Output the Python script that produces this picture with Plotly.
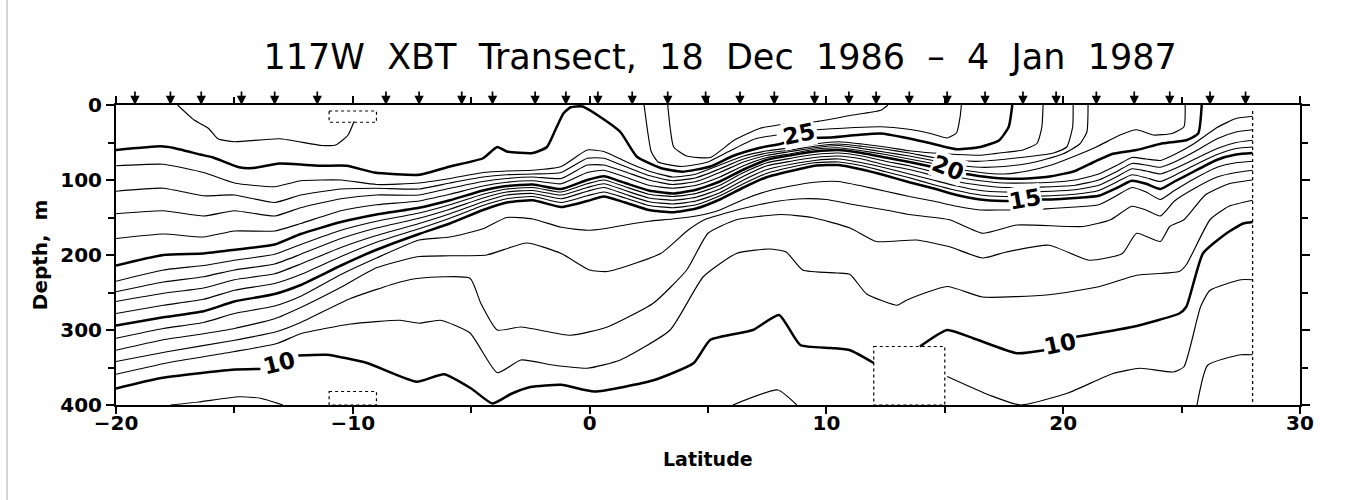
import plotly.graph_objects as go

# ---------------- data ----------------
stations = [-19.2, -17.7, -16.4, -14.7, -13.3, -11.5, -8.6, -7.2, -5.4, -4.1, -2.3, -1.0,
            0.35, 1.8, 3.3, 4.9, 6.35, 7.8, 9.5, 10.95, 12.1, 13.5, 15.1, 16.7, 18.3, 19.7,
            21.4, 23.0, 24.5, 26.2, 27.7]

lat_main = [-20, -18, -16.3, -15, -13.3, -12.2, -10.5, -9, -7.2, -5.9, -4.5, -3.5, -2.4, -1.2,
            -0.1, 0.6, 1.5, 2.5, 3.5, 4.5, 5.5, 6.5, 7.5, 8.5, 9.5, 10.5, 11.5, 12.5, 13.5,
            14.5, 15.5, 16.5, 17.5]
lat_right = [18.5, 19.5, 20.5, 21.5, 22.3, 22.9, 23.5, 24.1, 24.7, 25.5, 26.5, 27.3, 28]

t27_lat = [3.3, 3.4, 3.55, 4.1, 5.1, 6.1, 7.2, 7.9, 8.6, 9.6, 11.0, 12.3, 12.6]
t27_dep = [0, 30, 56, 68, 70, 47, 31, 27, 24, 22, 14, 7, 0]

t26a_lat = [-17.4, -16.7, -16.1, -15.7, -15.0, -13.1, -11.3, -10.7, -10.2, -9.95]
t26a_dep = [0, 20, 31, 45, 49, 45, 54, 53, 40, 22]
t26b_lat = [2.3, 2.45, 2.6, 2.9, 3.9, 5.0, 6.0, 7.0, 7.9, None,
            9.6, 11.2, 12.3, 13.4, 14.4, 15.1, 15.5, 15.65, 15.7]
t26b_dep = [0, 35, 62, 76, 82, 76, 60, 45, 40, None,
            33, 30, 29, 32, 38, 44, 37, 15, 0]

t25_lat = [-20, -18.1, -17.6, -16.45, -15.9, -14.8, -14.2, -13.1, -11.4, -10.25, -9.1, -7.2,
           -5.9, -4.5, -3.9, -3.5, -2.4, -1.8, -1.4, -1.1, -0.8, -0.3, 0.45, 1.3, 2.0, 3.0,
           3.9, 5.1, 6.05, 7.2, 8.05, 8.25, None,
           9.45, 10.3, 11.3, 12.3, 13.4, 14.4, 15.5, 16.5, 17.3, 17.7, 17.85]
t25_dep = [60, 55, 57, 66, 70, 83, 84, 78, 81, 81, 90, 93,
           82, 71, 56, 62, 64, 56, 30, 11, 3, 2, 16, 36, 69, 84,
           89, 82, 68, 57, 52, 50, None,
           44, 43, 40, 38, 44, 51, 59, 56, 47, 29, 0]

t24_tail_lat = [15.5, 16.5, 17.6, 18.3, 18.9, 19.1, 19.15]
t24_dep = [81, 79, 90, 104, 109, 101, 100, 106, 104, 98, 90, 88, 87, 82, 60, 62, 75, 88, 96,
           92, 80, 68, 61, 57, 52, 49, 52, 56, 61, 64,
           66, 67, 63, 60, 51, 29, 0]

t23_tail_lat = [16.5, 18.2, 19.6, 20.15, 20.4, 20.42]
t23_dep = [115, 111, 121, 120, 130, 120, 112, 111, 112, 104, 96, 93, 92, 90, 71, 71, 82, 94,
           101, 97, 85, 72, 64, 60, 55, 52, 55, 59, 64, 70, 74,
           75, 70, 64, 56, 29, 0]

t22_tail_lat = [16.5, 17.5, 18.5, 19.3, 20.0, 20.7, 21.0, 21.05]
t22_dep = [145, 141, 148, 141, 148, 137, 125, 120, 120, 111, 102, 98, 96, 98, 80, 80, 89, 100,
           106, 102, 90, 76, 67, 62, 57, 54, 58, 63, 68, 74, 80,
           83, 82, 78, 72, 65, 52, 36, 0]

t21_tail_lat = [16.5, 17.5, 18.5, 19.5, 20.5, 21.4, 22.4, 23.1, 23.8, 24.6, 25.1, 25.15]
t21_dep = [178, 172, 176, 168, 168, 158, 141, 133, 128, 119, 108, 103, 101, 105, 90, 87, 96,
           107, 111, 107, 96, 81, 70, 65, 59, 57, 61, 66, 72, 78, 85,
           90, 92, 88, 80, 68, 56, 40, 33, 40, 38, 29, 0]

t20_tail_lat = [14.4, None, 15.9, 16.5, 17.5, 18.5, 19.5, 20.5, 21.3, 22.1, 23.1, 24.2, 25.2,
                25.7, 25.85]
t20_dep = [214, 200, 198, 193, 186, 172, 156, 146, 137, 127, 114, 108, 106, 112, 100, 95, 104,
           114, 118, 113, 102, 86, 73, 67, 62, 60, 64, 70, 76,
           82, None, 92, 95, 98, 98, 95, 88, 76, 65, 60, 51, 47, 38, 0]

t19_dep = [235, 220, 214, 207, 199, 186, 167, 155, 144, 133, 119, 112, 110, 116, 105, 100, 109,
           119, 122, 118, 107, 90, 77, 71, 66, 64, 68, 75, 81, 89, 96, 101, 104,
           104, 103, 100, 92, 80, 70, 72, 74, 66, 52, 30, 18, 15]
t18_dep = [249, 236, 229, 220, 212, 199, 178, 164, 151, 139, 124, 116, 114, 120, 110, 105, 114,
           124, 127, 123, 112, 95, 81, 75, 70, 68, 72, 80, 86, 94, 102, 107, 110,
           110, 109, 107, 100, 88, 78, 80, 83, 76, 63, 45, 36, 33]
t17_dep = [262, 251, 244, 233, 225, 212, 190, 174, 158, 145, 129, 120, 118, 125, 115, 110, 119,
           129, 132, 128, 117, 100, 86, 79, 74, 72, 77, 84, 92, 100, 108, 114, 116,
           116, 115, 113, 107, 95, 85, 88, 92, 85, 73, 58, 50, 47]
t16_dep = [278, 267, 259, 247, 238, 226, 202, 183, 165, 151, 134, 125, 122, 130, 121, 116, 124,
           134, 137, 133, 121, 105, 91, 83, 77, 76, 81, 89, 97, 106, 114, 120, 122,
           122, 121, 119, 114, 102, 93, 97, 102, 94, 81, 66, 58, 56]

t15_tail_lat = [17.85, None, 19.0, 19.5, 20.5, 21.5, 22.3, 22.9, 23.5, 24.1, 24.7, 25.5, 26.5,
                27.3, 28]
t15_dep = [294, 283, 275, 262, 252, 240, 214, 193, 172, 158, 140, 130, 127, 136, 128, 122, 130,
           140, 143, 138, 126, 110, 96, 88, 81, 80, 86, 94, 103, 111, 120, 126, 128,
           128, None, 126, 126, 124, 121, 110, 101, 105, 112, 102, 89, 73, 66, 64]

t14_dep = [311, 298, 290, 278, 268, 255, 226, 204, 180, 176, 165, 150, 152, 163, 167, 165, 160,
           155, 152, 148, 140, 126, 115, 108, 103, 102, 108, 115, 122, 128, 135, 140, 140,
           140, 138, 136, 133, 120, 110, 116, 126, 114, 99, 83, 77, 75]

t13_lat = [-20, -18, -16.3, -15, -13.3, -12.2, -10.5, -9, -7.2, -5.9, -4.35, -2.65, -1.2, 0,
           0.75, 3.0, 4.15, 4.85, 6, 7, 8, 9, 10, 11, 12.5, 13.5, 15.2, 16.6, 18.05, 20.85,
           22.0, 22.9, 23.5, 24.1, 24.7, 25.5, 26.5, 27.3, 28]
t13_dep = [327, 313, 305, 298, 285, 270, 243, 217, 202, 201, 200, 184, 198, 220, 222, 198, 167,
           153, 142, 134, 128, 125, 126, 132, 140, 146, 153, 171, 160, 162, 153, 135, 140, 148,
           128, 112, 96, 90, 87]

t12_lat = [-20, -17.85, -15.05, -13.2, -12.2, -10.1, -8.0, -7.2, -5.05, -4.6, -3.9, -2.9, -0.8,
           0.75, 2.7, 4.1, 5.0, 6.2, 8.05, 9.4, 11.0, 12.1, 13.8, 15.2, 16.6, 17.6, 19.4, 21.1,
           22.5, 23.1, 24.1, 24.5, 25.1, 26, 27, 28]
t12_dep = [342, 329, 314, 302, 290, 258, 236, 231, 231, 264, 300, 296, 307, 296, 264, 220, 171,
           153, 146, 150, 164, 182, 180, 189, 204, 196, 187, 207, 198, 171, 182, 162, 153, 120,
           105, 100]

t11_lat = [-20, -17.85, -15.05, -13.2, -12.2, -10.1, -8.0, -7.2, -6.3, -5.05, -3.9, -2.9, -1.5,
           -0.1, 1.3, 3.4, 4.8, 6.2, 7.6, 8.3, 9.0, 10.45, 11.0, 11.7, 13.0, 13.4, 15.1, 16.6,
           19.4, 21.55, 23.1, 24.9, 25.2, 26.2, 27.0, 28.0]
t11_dep = [359, 344, 329, 318, 305, 292, 287, 291, 287, 304, 357, 340, 347, 351, 340, 300, 229,
           198, 192, 196, 220, 224, 226, 252, 267, 260, 242, 256, 253, 242, 227, 222, 213, 153,
           135, 127]

t10_lat = [-20, -18.1, -15.1, -13.9, None,
           -12.3, -11.1, -9.4, -7.3, -6.15, -5.0, -4.1, -3.3, -2.5, -1.2, 0.2, 2.7, 4.4, 5.1,
           6.9, 8.0, 8.9, 10.2, 11.0, 12.0, None,
           13.95, 15.1, 16.2, 18.05, 19.2, None,
           20.55, 22.9, 24.9, 25.2, 25.9, 26.9, 27.6, 28.0]
t10_dep = [378, 364, 353, 352, None,
           334, 333, 344, 369, 359, 378, 398, 385, 376, 373, 382, 367, 344, 313,
           300, 280, 320, 324, 327, 344, None,
           322, 300, 311, 331, 327, None,
           309, 296, 278, 269, 198, 171, 158, 156]

t9_lat = [-17.7, -16.5, -14.8, -13.9, -12.95, None,
          6.05, 7.95, 8.75, None,
          15.1, 16.9, 18.2, 20.2, 22.1, 23.25, 24.65, 25.1, 25.8, 26.2, 27.5, 28.0]
t9_dep = [400, 396, 389, 391, 400, None,
          400, 380, 400, None,
          362, 387, 400, 384, 358, 351, 356, 349, 269, 247, 233, 233]

t8_lat = [25.65, 26.1, 27.5, 28.0]
t8_dep = [400, 347, 333, 333]

# contour labels: text, latitude, depth, angle
label_text = ["25", "20", "15", "10", "10"]
label_lat = [8.85, 15.15, 18.4, -13.1, 19.85]
label_dep = [38, 84, 125, 344, 318]
label_ang = [-12, 22, -10, -14, -12]

# missing-data boxes: lat0, lat1, dep0, dep1
box_lat0 = [-11, -11, 12]
box_lat1 = [-9, -9, 15]
box_dep0 = [8, 382, 322]
box_dep1 = [23, 400, 400]
data_end_lat = 28

x_ticks = [-20, -10, 0, 10, 20, 30]
x_ticktext = ["\u221220", "\u221210", "0", "10", "20", "30"]
y_ticks = [0, 100, 200, 300, 400]

# ---------------- assemble isotherms ----------------
isotherms = [
    (t27_lat, t27_dep, False),
    (t26a_lat, t26a_dep, False),
    (t26b_lat, t26b_dep, False),
    (t25_lat, t25_dep, True),
    (lat_main[:30] + t24_tail_lat, t24_dep, False),
    (lat_main[:31] + t23_tail_lat, t23_dep, False),
    (lat_main[:31] + t22_tail_lat, t22_dep, False),
    (lat_main[:31] + t21_tail_lat, t21_dep, False),
    (lat_main[:29] + t20_tail_lat, t20_dep, True),
    (lat_main + lat_right, t19_dep, False),
    (lat_main + lat_right, t18_dep, False),
    (lat_main + lat_right, t17_dep, False),
    (lat_main + lat_right, t16_dep, False),
    (lat_main + t15_tail_lat, t15_dep, True),
    (lat_main + lat_right, t14_dep, False),
    (t13_lat, t13_dep, False),
    (t12_lat, t12_dep, False),
    (t11_lat, t11_dep, False),
    (t10_lat, t10_dep, True),
    (t9_lat, t9_dep, False),
    (t8_lat, t8_dep, False),
]

fig = go.Figure()
for lats, deps, bold in isotherms:
    fig.add_trace(go.Scatter(
        x=lats, y=deps, mode="lines", hoverinfo="skip", showlegend=False,
        line=dict(color="black", width=2.5 if bold else 1.15, shape="spline", smoothing=0.5),
    ))

FONT = "DejaVu Sans"

for t, la, de, an in zip(label_text, label_lat, label_dep, label_ang):
    fig.add_annotation(x=la, y=de, text=t, showarrow=False, textangle=an,
                       font=dict(family=FONT, size=23, color="black", weight="bold"),
                       bgcolor="white", borderpad=0)

for a0, a1, d0, d1 in zip(box_lat0, box_lat1, box_dep0, box_dep1):
    fig.add_shape(type="rect", x0=a0, x1=a1, y0=d0, y1=d1,
                  line=dict(color="black", width=1.2, dash="dot"))
fig.add_shape(type="line", x0=data_end_lat, x1=data_end_lat, y0=8, y1=400,
              line=dict(color="black", width=1.2, dash="dot"))

# faint scan border on the left edge of the page
fig.add_shape(type="line", xref="paper", yref="paper", x0=-0.092, x1=-0.092, y0=-0.32, y1=1.35,
              line=dict(color="#c8c8c8", width=1.5))

for s in stations:
    fig.add_annotation(x=s, y=0, ax=0, ay=-15, text="", showarrow=True,
                       arrowhead=2, arrowsize=1.1, arrowwidth=1.7, arrowcolor="black")

fig.add_annotation(xref="paper", yref="paper", x=-0.064, y=0.5, text="Depth,  m",
                   xanchor="center", yanchor="middle", textangle=-90, showarrow=False,
                   font=dict(family=FONT, size=20, color="black", weight="bold"))
fig.add_annotation(xref="paper", yref="paper", x=0.5, y=-0.18, text="Latitude",
                   xanchor="center", yanchor="middle", showarrow=False,
                   font=dict(family=FONT, size=19, color="black", weight="bold"))

fig.update_layout(
    width=1346, height=500,
    margin=dict(l=116, r=46, t=105, b=95),
    paper_bgcolor="white", plot_bgcolor="white",
    title=dict(text="117W  XBT  Transect,  18  Dec  1986  \u2013  4  Jan  1987",
               x=0.535, xanchor="center", y=0.886, yanchor="middle",
               font=dict(family=FONT, size=35, color="black")),
    xaxis=dict(range=[-20, 30], tickvals=x_ticks, ticktext=x_ticktext,
               showline=True, linecolor="black", linewidth=2, mirror="ticks",
               ticks="outside", ticklen=7, tickwidth=1.5, tickcolor="black",
               ticklabelstandoff=-8,
               minor=dict(dtick=5, ticks="outside", ticklen=6, tickwidth=1.5, tickcolor="black"),
               showgrid=False, zeroline=False,
               tickfont=dict(family=FONT, size=20, color="black", weight="bold")),
    yaxis=dict(range=[400, 0], tickvals=y_ticks,
               showline=True, linecolor="black", linewidth=2, mirror="ticks",
               ticks="outside", ticklen=8, tickwidth=1.5, tickcolor="black",
               minor=dict(dtick=50, ticks="outside", ticklen=6, tickwidth=1.5, tickcolor="black"),
               showgrid=False, zeroline=False,
               tickfont=dict(family=FONT, size=20, color="black", weight="bold")),
)

fig.write_html("out.html")
